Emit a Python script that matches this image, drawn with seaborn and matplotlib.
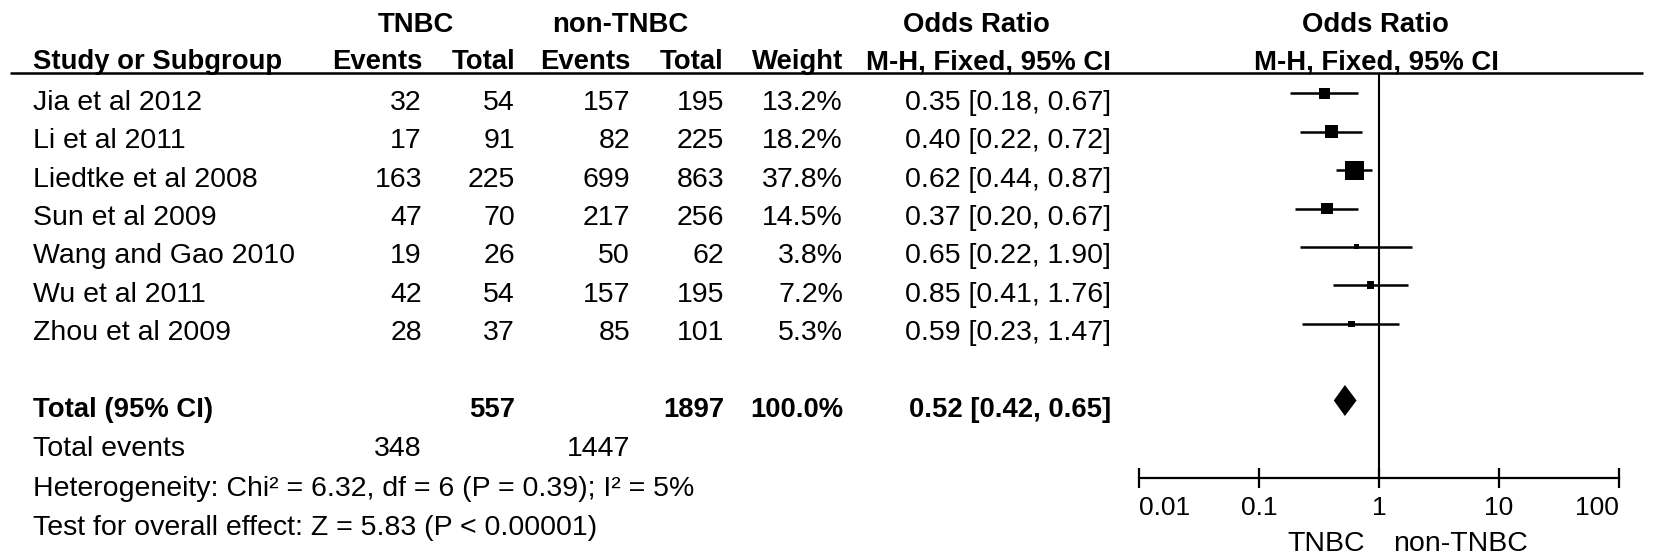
import seaborn as sns
import matplotlib.pyplot as plt
import pandas as pd

# study data
studies = ["Jia et al 2012", "Li et al 2011", "Liedtke et al 2008", "Sun et al 2009",
           "Wang and Gao 2010", "Wu et al 2011", "Zhou et al 2009"]
tnbc_events = [32, 17, 163, 47, 19, 42, 28]
tnbc_total = [54, 91, 225, 70, 26, 54, 37]
non_events = [157, 82, 699, 217, 50, 157, 85]
non_total = [195, 225, 863, 256, 62, 195, 101]
weight = [13.2, 18.2, 37.8, 14.5, 3.8, 7.2, 5.3]
or_est = [0.35, 0.40, 0.62, 0.37, 0.65, 0.85, 0.59]
ci_low = [0.18, 0.22, 0.44, 0.20, 0.22, 0.41, 0.23]
ci_high = [0.67, 0.72, 0.87, 0.67, 1.90, 1.76, 1.47]

total_or = [0.52, 0.42, 0.65]
total_n = [557, 1897]
total_ev = [348, 1447]
footer = ["Heterogeneity: Chi\u00b2 = 6.32, df = 6 (P = 0.39); I\u00b2 = 5%",
          "Test for overall effect: Z = 5.83 (P < 0.00001)"]
ticks = [0.01, 0.1, 1, 10, 100]
tick_labels = ["0.01", "0.1", "1", "10", "100"]

sns.set_theme(style="white")
plt.rcParams['font.family'] = ['Liberation Sans', 'DejaVu Sans']

W, H = 1654, 556
fig = plt.figure(figsize=(W / 100, H / 100), dpi=100)

# text layer in pixel coords
ax = fig.add_axes([0, 0, 1, 1])
ax.set_xlim(0, W)
ax.set_ylim(H, 0)
ax.axis('off')

fs = 20.5
fb = 19.8
x_name, x_te, x_tt, x_ne, x_nt, x_w, x_ci = 33, 422, 515, 630, 724, 843, 1111

def row_base(i):
    return 109.8 + 38.4 * i

def put(x, y, s, ha='right', bold=False, size=None):
    ax.text(x, y, s, ha=ha, va='baseline', fontsize=size or (fb if bold else fs),
            fontweight='bold' if bold else 'normal', color='black')

# header
put(416, 32, "TNBC", ha='center', bold=True)
put(620, 32, "non-TNBC", ha='center', bold=True)
put(976, 32, "Odds Ratio", ha='center', bold=True)
put(1375, 32, "Odds Ratio", ha='center', bold=True)
put(x_name, 69, "Study or Subgroup", ha='left', bold=True)
for x, s in [(x_te, "Events"), (x_tt, "Total"), (x_ne, "Events"), (x_nt, "Total"),
             (x_w, "Weight"), (x_ci, "M-H, Fixed, 95% CI")]:
    put(x, 69, s, bold=True)
put(1376, 69, "M-H, Fixed, 95% CI", ha='center', bold=True)
ax.plot([10, 1643], [73, 73], color='black', lw=1.8, solid_capstyle='butt')

# study rows
for i, name in enumerate(studies):
    y = row_base(i)
    put(x_name, y, name, ha='left')
    put(x_te, y, str(tnbc_events[i]))
    put(x_tt, y, str(tnbc_total[i]))
    put(x_ne, y, str(non_events[i]))
    put(x_nt, y, str(non_total[i]))
    put(x_w, y, f"{weight[i]:.1f}%")
    put(x_ci, y, f"{or_est[i]:.2f} [{ci_low[i]:.2f}, {ci_high[i]:.2f}]")

# total rows
yt = row_base(8)
put(x_name, yt, "Total (95% CI)", ha='left', bold=True)
put(x_tt, yt, str(total_n[0]), bold=True)
put(x_nt, yt, str(total_n[1]), bold=True)
put(x_w, yt, f"{sum(weight):.1f}%", bold=True)
put(x_ci, yt, f"{total_or[0]:.2f} [{total_or[1]:.2f}, {total_or[2]:.2f}]", bold=True)

y9 = yt + 39.3
put(x_name, y9, "Total events", ha='left')
put(x_te, y9, str(total_ev[0]))
put(x_ne, y9, str(total_ev[1]))
for k, s in enumerate(footer):
    put(x_name, y9 + 39.3 * (k + 1), s, ha='left')

# forest panel
top, bot = 73, 478
fx0, fx1 = 1139, 1619
axf = fig.add_axes([fx0 / W, (H - bot) / H, (fx1 - fx0) / W, (bot - top) / H])
axf.set_xscale('log')
axf.set_xlim(0.01, 100)
axf.set_ylim(bot, top)
axf.patch.set_alpha(0)

ymark = [row_base(i) - 16.5 for i in range(len(studies))]
df = pd.DataFrame({'or': or_est, 'y': ymark, 'w': weight})
axf.hlines(ymark, ci_low, ci_high, color='black', lw=1.8)
sns.scatterplot(data=df, x='or', y='y', size='w', sizes=(13, 187), marker='s',
                color='black', linewidth=0, legend=False, ax=axf, zorder=3)

yd = row_base(8) - 16.5
axf.fill([total_or[1], total_or[0], total_or[2], total_or[0]],
         [yd, yd - 15.5, yd, yd + 15.5], color='black', lw=0, zorder=3)
axf.axvline(1, color='black', lw=1.5)

for s in ['top', 'left', 'right']:
    axf.spines[s].set_visible(False)
axf.spines['bottom'].set_linewidth(1.6)
axf.spines['bottom'].set_color('black')
axf.set_xticks(ticks)
axf.set_xticklabels(tick_labels)
axf.minorticks_off()
axf.set_yticks([])
axf.set_xlabel('')
axf.set_ylabel('')
axf.tick_params(axis='x', direction='inout', length=14.4, width=1.6, pad=6,
                labelsize=19, colors='black', bottom=True)
lbls = axf.get_xticklabels()
lbls[0].set_ha('left')
lbls[-1].set_ha('right')

ax.text(1365, 551, "TNBC", ha='right', va='baseline', fontsize=fs, color='black')
ax.text(1393, 551, "non-TNBC", ha='left', va='baseline', fontsize=fs, color='black')

fig.savefig('out.png', dpi=100)
